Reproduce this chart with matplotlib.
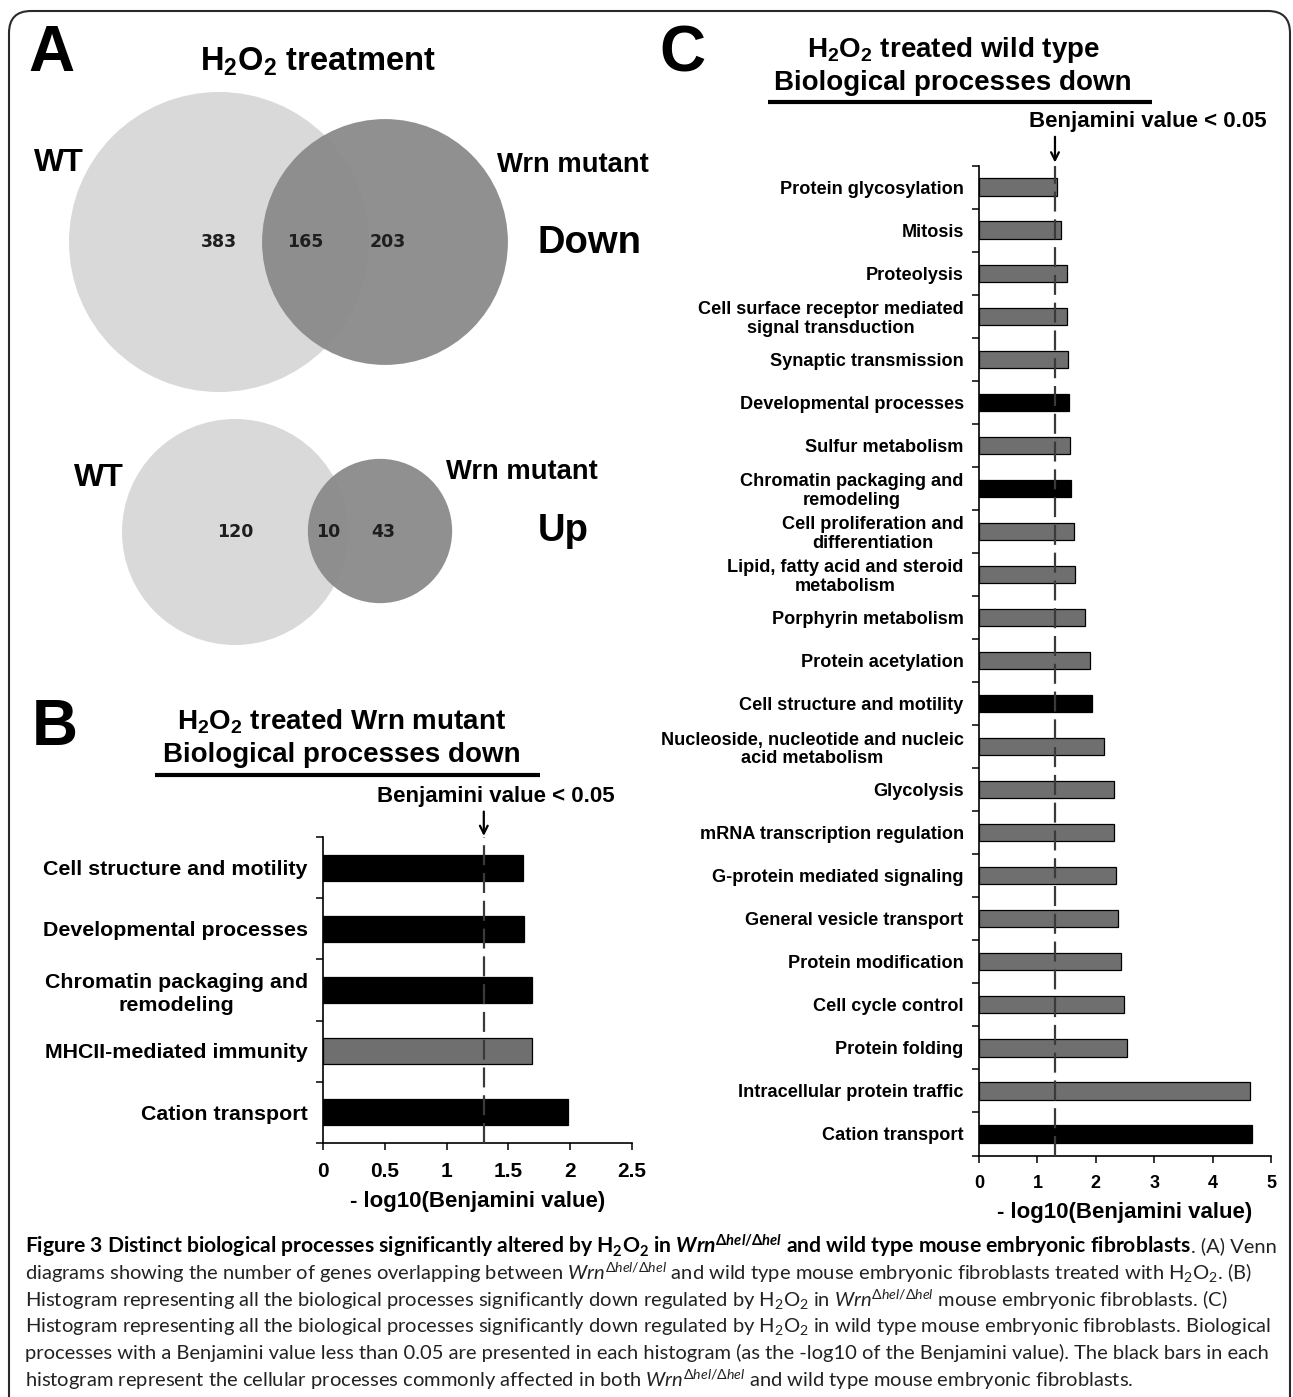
"""Figure 3: Venn diagrams (A) and Benjamini bar charts (B, C) for H2O2 treated MEFs."""
import numpy as np
import matplotlib as mpl
import matplotlib.pyplot as plt
from matplotlib.patches import Circle, FancyBboxPatch

mpl.rcParams.update({
    "font.family": "Liberation Sans", "font.weight": "bold",
    "mathtext.fontset": "custom", "mathtext.default": "regular",
    "mathtext.rm": "Lato:weight=normal",
    "mathtext.it": "Lato:style=italic:weight=normal",
    "mathtext.bf": "Lato:weight=bold",
    "mathtext.bfit": "Lato:style=italic:weight=bold",
})

# ---- data ---------------------------------------------------------------
venn_sets = ["WT", "Wrn mutant"]
down_counts = [383, 165, 203]      # WT only, both, Wrn only
up_counts = [120, 10, 43]

b_labels = ["Cell structure and motility", "Developmental processes",
            "Chromatin packaging and\nremodeling", "MHCII-mediated immunity",
            "Cation transport"]
b_values = [1.62, 1.63, 1.69, 1.69, 1.98]
b_common = [True, True, True, False, True]

c_labels = ["Protein glycosylation", "Mitosis", "Proteolysis",
            "Cell surface receptor mediated\nsignal transduction",
            "Synaptic transmission", "Developmental processes",
            "Sulfur metabolism", "Chromatin packaging and\nremodeling",
            "Cell proliferation and\ndifferentiation",
            "Lipid, fatty acid and steroid\nmetabolism",
            "Porphyrin metabolism", "Protein acetylation",
            "Cell structure and motility",
            "Nucleoside, nucleotide and nucleic\nacid metabolism",
            "Glycolysis", "mRNA transcription regulation",
            "G-protein mediated signaling", "General vesicle transport",
            "Protein modification", "Cell cycle control", "Protein folding",
            "Intracellular protein traffic", "Cation transport"]
c_values = [1.34, 1.40, 1.50, 1.50, 1.53, 1.54, 1.56, 1.58, 1.62, 1.65,
            1.81, 1.90, 1.93, 2.14, 2.32, 2.32, 2.35, 2.38, 2.43, 2.49,
            2.53, 4.64, 4.67]
c_common = [False, False, False, False, False, True, False, True, False,
            False, False, False, True, False, False, False, False, False,
            False, False, False, False, True]

threshold = -np.log10(0.05)

W, H = 1293, 1397
GREY_BAR = "#6f6f6f"
WT_COL, MUT_COL = "#d9d9d9", "#8a8a8a"


def venn(ax, counts, c_wt, c_mut, k, mid_shift=0):
    r_wt = k * np.sqrt(counts[0] + counts[1])
    r_mut = k * np.sqrt(counts[1] + counts[2])
    ax.add_patch(Circle(c_wt, r_wt, fc=WT_COL, ec="none", zorder=1))
    ax.add_patch(Circle(c_mut, r_mut, fc=MUT_COL, ec="none", alpha=0.95, zorder=2))
    overlap_mid = ((c_mut[0] - r_mut) + (c_wt[0] + r_wt)) / 2
    xs = [c_wt[0], overlap_mid + mid_shift, c_mut[0] + 3]
    for x, n in zip(xs, counts):
        ax.text(x, c_wt[1], str(n), ha="center", va="center", fontsize=12.5,
                family="DejaVu Sans", weight="bold", color="#1e1e1e", zorder=3)


def bars(ax, labels, values, common, xmax, step, lab_fs, tick_fs, height, lsp):
    n = len(values)
    y = np.arange(n)
    cols = ["black" if c else GREY_BAR for c in common]
    ax.barh(y, values, height=height, color=cols, edgecolor="black", lw=0.9)
    ax.axvline(threshold, color="#3a3a3a", lw=1.6, dashes=(9, 3.5), zorder=3)
    ax.set_ylim(n - 0.5, -0.5)
    ax.set_xlim(0, xmax)
    ax.set_yticks(y)
    ax.set_yticklabels(labels, fontsize=lab_fs, weight="bold", ha="right",
                       multialignment="center", linespacing=lsp)
    ax.set_yticks(np.arange(n + 1) - 0.5, minor=True)
    ax.tick_params(axis="y", which="major", length=0, pad=11)
    ax.tick_params(axis="y", which="minor", length=5, width=1.1, direction="out")
    ticks = np.arange(0, xmax + 1e-9, step)
    ax.set_xticks(ticks)
    ax.set_xticklabels([f"{t:g}" for t in ticks], fontsize=tick_fs, weight="bold")
    ax.tick_params(axis="x", length=5, width=1.1, direction="out", pad=9)
    for s in ("top", "right"):
        ax.spines[s].set_visible(False)
    for s in ("left", "bottom"):
        ax.spines[s].set_linewidth(1.2)
    ax.set_facecolor("none")
    ax.set_xlabel("- log10(Benjamini value)", fontsize=16, weight="bold", labelpad=7)


def main():
    fig = plt.figure(figsize=(W / 100, H / 100), dpi=100)
    ax0 = fig.add_axes([0, 0, 1, 1])
    ax0.set_xlim(0, W)
    ax0.set_ylim(H, 0)
    ax0.axis("off")

    ax0.add_patch(FancyBboxPatch((9, 11), 1281, 1460,
                                 boxstyle="round,pad=0,rounding_size=22",
                                 fc="none", ec="#2a2a2a", lw=1.5))

    # panel A
    ax0.text(51, 54, "A", fontsize=46, weight="bold", ha="center", va="center")
    ax0.text(318, 62, "H$_2$O$_2$ treatment", fontsize=23.5, weight="bold",
             ha="center", va="center")
    venn(ax0, down_counts, (219, 242), (385, 242), 150 / np.sqrt(548), mid_shift=-10)
    venn(ax0, up_counts, (235, 532), (380, 531), 113 / np.sqrt(130))
    ax0.text(59, 163, venn_sets[0], fontsize=23, weight="bold", ha="center", va="center")
    ax0.text(573, 165, venn_sets[1], fontsize=19.7, weight="bold", ha="center", va="center")
    ax0.text(589, 243, "Down", fontsize=27.5, weight="bold", ha="center", va="center")
    ax0.text(99, 478, venn_sets[0], fontsize=23, weight="bold", ha="center", va="center")
    ax0.text(522, 472, venn_sets[1], fontsize=19.7, weight="bold", ha="center", va="center")
    ax0.text(563, 531, "Up", fontsize=27.5, weight="bold", ha="center", va="center")

    # panel B
    ax0.text(55, 728, "B", fontsize=46, weight="bold", ha="center", va="center")
    ax0.text(342, 722, "H$_2$O$_2$ treated Wrn mutant", fontsize=20, weight="bold",
             ha="center", va="center")
    ax0.text(342, 755, "Biological processes down", fontsize=20, weight="bold",
             ha="center", va="center")
    ax0.plot([155, 540], [775, 775], color="black", lw=3, solid_capstyle="butt")
    axb = fig.add_axes([323 / W, 1 - 1142.5 / H, 309 / W, 305 / H])
    bars(axb, b_labels, b_values, b_common, 2.5, 0.5, 15.4, 15, 0.41, 1.25)
    axb.annotate("", xy=(threshold, 1.005), xycoords=axb.get_xaxis_transform(),
                 xytext=(threshold, 1.085), textcoords=axb.get_xaxis_transform(),
                 arrowprops=dict(arrowstyle="->", lw=1.6, color="black",
                                 mutation_scale=14, shrinkA=0, shrinkB=0))
    axb.text(0.56, 1.136, "Benjamini value < 0.05", transform=axb.transAxes,
             fontsize=16, weight="bold", ha="center", va="center")

    # panel C
    ax0.text(682, 54, "C", fontsize=46, weight="bold", ha="center", va="center")
    ax0.text(953, 50, "H$_2$O$_2$ treated wild type", fontsize=20, weight="bold",
             ha="center", va="center")
    ax0.text(953, 83, "Biological processes down", fontsize=20, weight="bold",
             ha="center", va="center")
    ax0.plot([768, 1152], [102, 102], color="black", lw=3, solid_capstyle="butt")
    axc = fig.add_axes([979 / W, 1 - 1155.5 / H, 292 / W, 990 / H])
    bars(axc, c_labels, c_values, c_common, 5, 1, 13.1, 13, 0.4, 1.12)
    axc.annotate("", xy=(threshold, 1.003), xycoords=axc.get_xaxis_transform(),
                 xytext=(threshold, 1.029), textcoords=axc.get_xaxis_transform(),
                 arrowprops=dict(arrowstyle="->", lw=1.6, color="black",
                                 mutation_scale=14, shrinkA=0, shrinkB=0))
    axc.text(0.579, 1.044, "Benjamini value < 0.05", transform=axc.transAxes,
             fontsize=16, weight="bold", ha="center", va="center")

    # caption
    cap_fs = 14.5
    wrn = r"$\mathit{Wrn}^{\Delta\mathit{hel}/\Delta\mathit{hel}}$"
    wrn_b = r"$\mathbfit{Wrn}^{\Delta\mathbfit{hel}/\Delta\mathbfit{hel}}$"
    bold1 = ("Figure 3 Distinct biological processes significantly altered by "
             "H$_2$O$_2$ in " + wrn_b + " and wild type mouse embryonic fibroblasts")
    t1 = ax0.text(25, 1246, bold1, fontsize=15.2, family="Lato", weight="bold",
                  ha="left", va="center", color="black")
    fig.canvas.draw()
    bb = t1.get_window_extent(renderer=fig.canvas.get_renderer())
    x_end = ax0.transData.inverted().transform((bb.x1, 0))[0]
    ax0.text(x_end, 1246, ". (A) Venn", fontsize=cap_fs, family="Lato",
             weight="normal", ha="left", va="center", color="#222222")
    lines = [
        "diagrams showing the number of genes overlapping between " + wrn +
        " and wild type mouse embryonic fibroblasts treated with H$_2$O$_2$. (B)",
        "Histogram representing all the biological processes significantly down "
        "regulated by H$_2$O$_2$ in " + wrn + " mouse embryonic fibroblasts. (C)",
        "Histogram representing all the biological processes significantly down "
        "regulated by H$_2$O$_2$ in wild type mouse embryonic fibroblasts. Biological",
        "processes with a Benjamini value less than 0.05 are presented in each "
        "histogram (as the -log10 of the Benjamini value). The black bars in each",
        "histogram represent the cellular processes commonly affected in both " +
        wrn + " and wild type mouse embryonic fibroblasts.",
    ]
    for i, line in enumerate(lines):
        ax0.text(25, 1273 + i * 26.6, line, fontsize=cap_fs, family="Lato",
                 weight="normal", ha="left", va="center", color="#222222")

    fig.savefig("out.png", dpi=100, facecolor="white")
    plt.close(fig)


if __name__ == "__main__":
    main()
